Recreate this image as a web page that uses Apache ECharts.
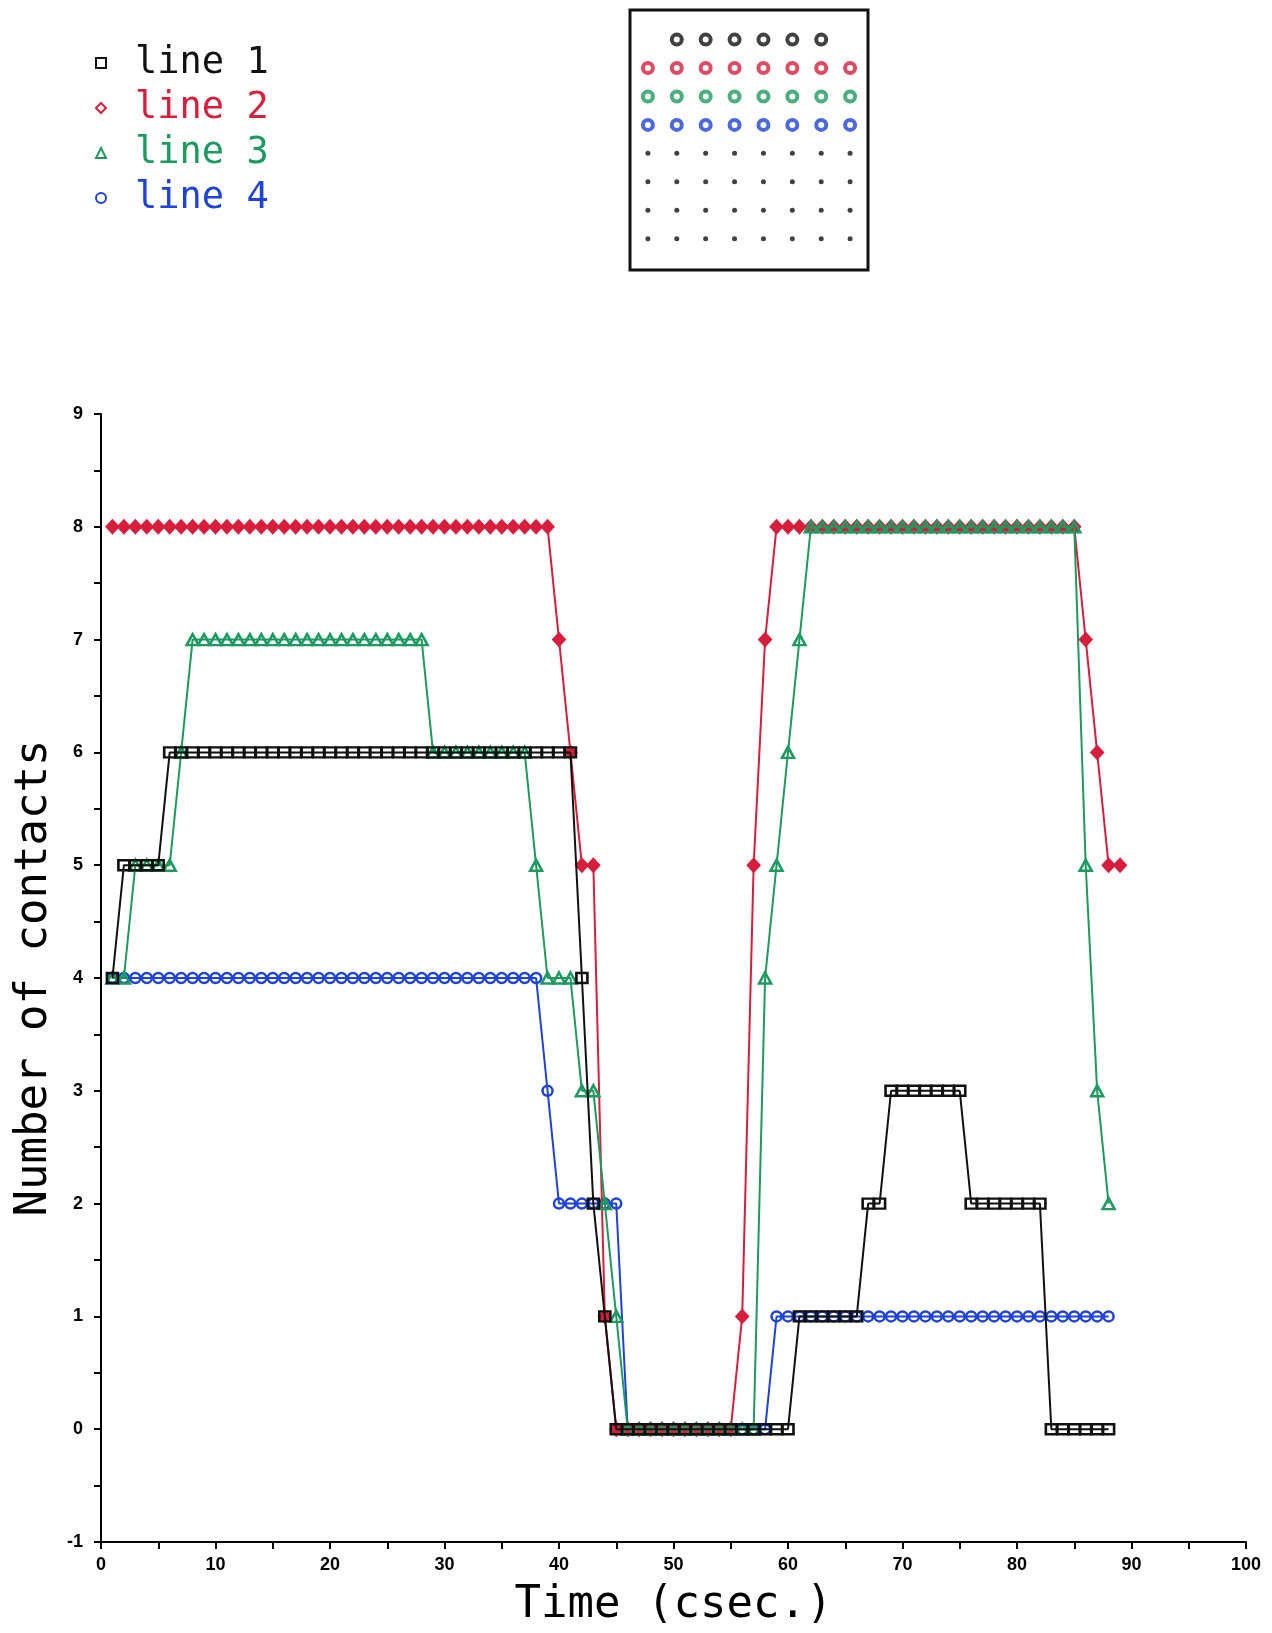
<!DOCTYPE html>
<html><head><meta charset="utf-8">
<script src="https://cdn.jsdelivr.net/npm/echarts/dist/echarts.min.js"></script>
<style>html,body{margin:0;padding:0;background:#fff}#c{width:1272px;height:1633px}</style>
</head><body><div id="c"></div>
<script>
// Time axis (csec.)
const times = [1,2,3,4,5,6,7,8,9,10,11,12,13,14,15,16,17,18,19,20,21,22,23,24,25,26,27,28,29,30,
  31,32,33,34,35,36,37,38,39,40,41,42,43,44,45,46,47,48,49,50,51,52,53,54,55,56,57,58,59,60,
  61,62,63,64,65,66,67,68,69,70,71,72,73,74,75,76,77,78,79,80,81,82,83,84,85,86,87,88,89];

// line 1 (black squares), t = 1..88
const line1 = [4,5,5,5,5,6,6,6,6,6,6,6,6,6,6,6,6,6,6,6,6,6,6,6,6,6,6,6,6,6,
  6,6,6,6,6,6,6,6,6,6,6,4,2,1,0,0,0,0,0,0,0,0,0,0,0,0,0,0,0,0,
  1,1,1,1,1,1,2,2,3,3,3,3,3,3,3,2,2,2,2,2,2,2,0,0,0,0,0,0];
// line 2 (red diamonds), t = 1..89
const line2 = [8,8,8,8,8,8,8,8,8,8,8,8,8,8,8,8,8,8,8,8,8,8,8,8,8,8,8,8,8,8,
  8,8,8,8,8,8,8,8,8,7,6,5,5,1,0,0,0,0,0,0,0,0,0,0,0,1,5,7,8,8,
  8,8,8,8,8,8,8,8,8,8,8,8,8,8,8,8,8,8,8,8,8,8,8,8,8,7,6,5,5];
// line 3 (green triangles), t = 1..88
const line3 = [4,4,5,5,5,5,6,7,7,7,7,7,7,7,7,7,7,7,7,7,7,7,7,7,7,7,7,7,6,6,
  6,6,6,6,6,6,6,5,4,4,4,3,3,2,1,0,0,0,0,0,0,0,0,0,0,0,0,4,5,6,
  7,8,8,8,8,8,8,8,8,8,8,8,8,8,8,8,8,8,8,8,8,8,8,8,8,5,3,2];
// line 4 (blue circles), t = 1..88
const line4 = [4,4,4,4,4,4,4,4,4,4,4,4,4,4,4,4,4,4,4,4,4,4,4,4,4,4,4,4,4,4,
  4,4,4,4,4,4,4,4,3,2,2,2,2,2,2,0,0,0,0,0,0,0,0,0,0,0,0,0,1,1,
  1,1,1,1,1,1,1,1,1,1,1,1,1,1,1,1,1,1,1,1,1,1,1,1,1,1,1,1];

const seriesNames = ['line 1','line 2','line 3','line 4'];
const xTicks = [0,10,20,30,40,50,60,70,80,90,100];
const yTicks = [-1,0,1,2,3,4,5,6,7,8,9];

// Inset panel of dots (column index, row index)
const panelCols = [0,1,2,3,4,5,6,7];
const panelTopCols = [1,2,3,4,5,6];
const panelRingRows = [1,2,3];
const panelDotRows = [4,5,6,7];

const BLACK = '#111111', RED = '#d81e3c', GREEN = '#1d9a5f', BLUE = '#1f42d8';

function pairs(vals){ return vals.map((v,i)=>[times[i], v]); }
function mk(name, vals, color, symbol, size, z, fill, bw){
  return {
    name, type:'line', data: pairs(vals), xAxisIndex:0, yAxisIndex:0,
    symbol, symbolSize:size, showAllSymbol:true, z, animation:false,
    lineStyle:{color, width:2},
    itemStyle:{color:fill, borderColor:color, borderWidth:bw},
    emphasis:{disabled:true}
  };
}

const ringRow0 = panelTopCols.map(c=>[c,0]);
const ringRed = panelCols.map(c=>[c,panelRingRows[0]]);
const ringGreen = panelCols.map(c=>[c,panelRingRows[1]]);
const ringBlue = panelCols.map(c=>[c,panelRingRows[2]]);
const smallDots = [];
panelDotRows.forEach(r=>panelCols.forEach(c=>smallDots.push([c,r])));

function ring(data, color){
  return {type:'scatter', xAxisIndex:1, yAxisIndex:1, data, symbol:'circle', symbolSize:10,
    itemStyle:{color:'#fff', borderColor:color, borderWidth:4}, animation:false, silent:true};
}

const chart = echarts.init(document.getElementById('c'), null, {renderer:'canvas'});
const labelFont = {fontFamily:'Liberation Sans', fontWeight:'bold', fontSize:18, color:'#000'};
chart.setOption({
  backgroundColor:'#fff',
  animation:false,
  legend:{
    orient:'vertical', left:95, top:43, padding:0, itemGap:5, itemWidth:10, itemHeight:10,
    selectedMode:false,
    textStyle:{fontFamily:'DejaVu Sans Mono', fontSize:37, lineHeight:40, padding:[0,0,0,24]},
    data:[
      {name:seriesNames[0], icon:'rect', itemStyle:{color:'transparent', borderColor:BLACK, borderWidth:2}, textStyle:{color:BLACK}},
      {name:seriesNames[1], icon:'diamond', itemStyle:{color:'transparent', borderColor:RED, borderWidth:2}, textStyle:{color:RED}},
      {name:seriesNames[2], icon:'triangle', itemStyle:{color:'transparent', borderColor:GREEN, borderWidth:2}, textStyle:{color:GREEN}},
      {name:seriesNames[3], icon:'circle', itemStyle:{color:'transparent', borderColor:BLUE, borderWidth:2}, textStyle:{color:BLUE}}
    ]
  },
  grid:[
    {left:101, right:26, top:414, bottom:85},
    {left:630, top:10, width:238, height:260, show:true, borderColor:'#111', borderWidth:3, backgroundColor:'transparent'}
  ],
  xAxis:[
    {type:'value', gridIndex:0, min:xTicks[0], max:xTicks[xTicks.length-1], interval:10,
     name:'Time (csec.)', nameLocation:'middle', nameGap:42,
     nameTextStyle:{fontFamily:'DejaVu Sans Mono', fontSize:44, color:'#000'},
     axisLine:{onZero:false, lineStyle:{color:'#000', width:2}},
     axisTick:{show:true, inside:false, length:7, lineStyle:{color:'#000', width:2}},
     minorTick:{show:true, splitNumber:2, length:7, lineStyle:{color:'#000', width:2}},
     axisLabel:Object.assign({margin:14}, labelFont),
     splitLine:{show:false}},
    {type:'value', gridIndex:1, min:-0.62, max:7.62, show:false}
  ],
  yAxis:[
    {type:'value', gridIndex:0, min:yTicks[0], max:yTicks[yTicks.length-1], interval:1,
     name:'Number of contacts', nameLocation:'middle', nameGap:42, nameRotate:90,
     nameTextStyle:{fontFamily:'DejaVu Sans Mono', fontSize:44, color:'#000'},
     axisLine:{show:true, onZero:false, lineStyle:{color:'#000', width:2}},
     axisTick:{show:true, inside:false, length:7, lineStyle:{color:'#000', width:2}},
     minorTick:{show:true, splitNumber:2, length:7, lineStyle:{color:'#000', width:2}},
     axisLabel:Object.assign({margin:18}, labelFont),
     splitLine:{show:false}},
    {type:'value', gridIndex:1, min:-1.04, max:8.1, inverse:true, show:false}
  ],
  series:[
    mk(seriesNames[3], line4, BLUE, 'circle', 10, 2, 'rgba(255,255,255,0)', 2.5),
    mk(seriesNames[1], line2, RED, 'diamond', [12,13], 3, RED, 2),
    mk(seriesNames[2], line3, GREEN, 'triangle', [12,11], 4, 'rgba(255,255,255,0)', 2.5),
    mk(seriesNames[0], line1, BLACK, 'rect', [11,10], 5, 'rgba(255,255,255,0)', 2.5),
    ring(ringRow0, '#111'),
    ring(ringRed, RED),
    ring(ringGreen, GREEN),
    ring(ringBlue, BLUE),
    {type:'scatter', xAxisIndex:1, yAxisIndex:1, data:smallDots, symbol:'circle', symbolSize:5,
     itemStyle:{color:'#111'}, animation:false, silent:true}
  ]
});
</script></body></html>
